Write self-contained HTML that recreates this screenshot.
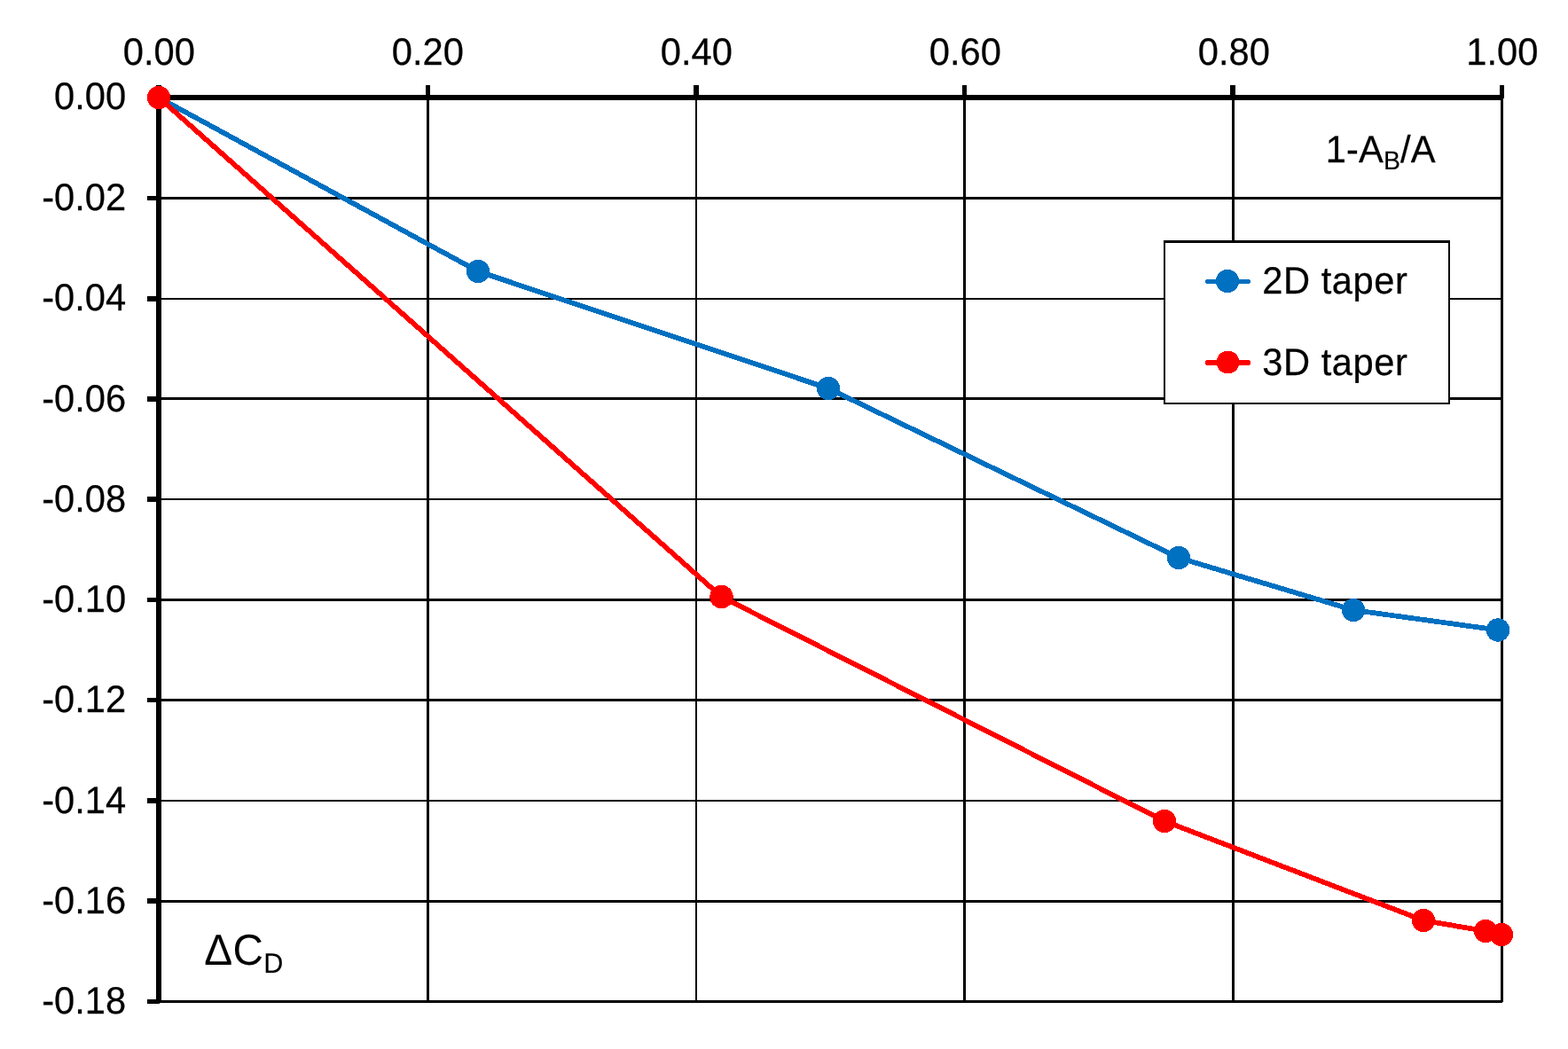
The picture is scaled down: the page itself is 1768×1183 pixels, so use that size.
<!DOCTYPE html>
<html lang="en"><head><meta charset="utf-8"><title>Chart</title>
<style>
html,body{margin:0;padding:0;background:#fff;}
body{width:1768px;height:1183px;overflow:hidden;}
svg{display:block;}
text{font-family:"Liberation Sans",sans-serif;fill:#000;stroke:#000;stroke-width:0.25px;text-rendering:geometricPrecision;}
.t{font-size:41.67px;}
</style></head><body>
<svg width="1768" height="1183" viewBox="0 0 1768 1183">
<rect x="0" y="0" width="1768" height="1183" fill="#fff"/>
<g fill="#000" shape-rendering="crispEdges">
<rect x="481" y="110" width="3" height="1020"/>
<rect x="784" y="110" width="2" height="1020"/>
<rect x="1086" y="110" width="3" height="1020"/>
<rect x="1389" y="110" width="3" height="1020"/>
<rect x="1692" y="110" width="3" height="1020"/>
<rect x="179" y="222" width="1515" height="3"/>
<rect x="179" y="336" width="1515" height="2"/>
<rect x="179" y="448" width="1515" height="3"/>
<rect x="179" y="562" width="1515" height="2"/>
<rect x="179" y="675" width="1515" height="3"/>
<rect x="179" y="788" width="1515" height="3"/>
<rect x="179" y="902" width="1515" height="2"/>
<rect x="179" y="1015" width="1515" height="3"/>
<rect x="179" y="1128" width="1515" height="3"/>
<rect x="176" y="107" width="6" height="1024"/>
<rect x="176" y="107" width="1518" height="6"/>
<rect x="176" y="96" width="6" height="15"/>
<rect x="480" y="96" width="5" height="15"/>
<rect x="782" y="96" width="6" height="15"/>
<rect x="1085" y="96" width="5" height="15"/>
<rect x="1387" y="96" width="6" height="15"/>
<rect x="1691" y="96" width="5" height="15"/>
<rect x="166" y="107" width="14" height="6"/>
<rect x="166" y="221" width="14" height="5"/>
<rect x="166" y="334" width="14" height="6"/>
<rect x="166" y="447" width="14" height="6"/>
<rect x="166" y="560" width="14" height="6"/>
<rect x="166" y="674" width="14" height="5"/>
<rect x="166" y="787" width="14" height="5"/>
<rect x="166" y="900" width="14" height="6"/>
<rect x="166" y="1013" width="14" height="6"/>
<rect x="166" y="1127" width="14" height="5"/>
</g>
<g shape-rendering="crispEdges">
<polyline fill="none" stroke="#0070C0" stroke-width="5.75" stroke-linejoin="round" stroke-linecap="round" points="179,110 539,306 934,438 1329,629 1526,688 1689,710.5"/>
<circle cx="179" cy="110" r="13.2" fill="#0070C0"/>
<circle cx="539" cy="306" r="13.2" fill="#0070C0"/>
<circle cx="934" cy="438" r="13.2" fill="#0070C0"/>
<circle cx="1329" cy="629" r="13.2" fill="#0070C0"/>
<circle cx="1526" cy="688" r="13.2" fill="#0070C0"/>
<circle cx="1689" cy="710.5" r="13.2" fill="#0070C0"/>
</g>
<g shape-rendering="crispEdges">
<polyline fill="none" stroke="#FF0000" stroke-width="5.75" stroke-linejoin="round" stroke-linecap="round" points="179,110 813.5,673 1313,926 1605,1038 1675,1050 1693,1054"/>
<circle cx="179" cy="110" r="13.2" fill="#FF0000"/>
<circle cx="813.5" cy="673" r="13.2" fill="#FF0000"/>
<circle cx="1313" cy="926" r="13.2" fill="#FF0000"/>
<circle cx="1605" cy="1038" r="13.2" fill="#FF0000"/>
<circle cx="1675" cy="1050" r="13.2" fill="#FF0000"/>
<circle cx="1693" cy="1054" r="13.2" fill="#FF0000"/>
</g>
<g shape-rendering="crispEdges">
<rect x="1312" y="271" width="323" height="185" fill="#000"/>
<rect x="1314" y="274" width="319" height="180" fill="#fff"/>
<line x1="1361.5" y1="317.5" x2="1407.5" y2="317.5" stroke="#0070C0" stroke-width="5" stroke-linecap="round"/>
<circle cx="1384" cy="317" r="13.2" fill="#0070C0"/>
<line x1="1362" y1="409" x2="1407" y2="409" stroke="#FF0000" stroke-width="6" stroke-linecap="round"/>
<circle cx="1384.5" cy="408.5" r="12.9" fill="#FF0000"/>
</g>
<text class="t" transform="translate(1423.2 331) scale(1 1.03)" style="letter-spacing:0.55px">2D taper</text>
<text class="t" transform="translate(1423.2 423) scale(1 1.03)" style="letter-spacing:0.55px">3D taper</text>
<text class="t" transform="translate(179.25 73) scale(1 1.03)" text-anchor="middle">0.00</text>
<text class="t" transform="translate(482.25 73) scale(1 1.03)" text-anchor="middle">0.20</text>
<text class="t" transform="translate(785.25 73) scale(1 1.03)" text-anchor="middle">0.40</text>
<text class="t" transform="translate(1088.25 73) scale(1 1.03)" text-anchor="middle">0.60</text>
<text class="t" transform="translate(1391.25 73) scale(1 1.03)" text-anchor="middle">0.80</text>
<text class="t" transform="translate(1693.75 73) scale(1 1.03)" text-anchor="middle">1.00</text>
<text class="t" transform="translate(142.2 123) scale(1 1.03)" text-anchor="end">0.00</text>
<text class="t" transform="translate(142.2 237) scale(1 1.03)" text-anchor="end">-0.02</text>
<text class="t" transform="translate(142.2 350) scale(1 1.03)" text-anchor="end">-0.04</text>
<text class="t" transform="translate(142.2 464) scale(1 1.03)" text-anchor="end">-0.06</text>
<text class="t" transform="translate(142.2 577) scale(1 1.03)" text-anchor="end">-0.08</text>
<text class="t" transform="translate(142.2 690) scale(1 1.03)" text-anchor="end">-0.10</text>
<text class="t" transform="translate(142.2 803) scale(1 1.03)" text-anchor="end">-0.12</text>
<text class="t" transform="translate(142.2 917) scale(1 1.03)" text-anchor="end">-0.14</text>
<text class="t" transform="translate(142.2 1030) scale(1 1.03)" text-anchor="end">-0.16</text>
<text class="t" transform="translate(142.2 1143) scale(1 1.03)" text-anchor="end">-0.18</text>
<text class="t" transform="translate(1494.8 183) scale(1 1.03)" style="letter-spacing:0.1px">1-A<tspan dy="7.73" style="font-size:28.5px;stroke-width:0.1px">B</tspan><tspan dy="-7.73">/A</tspan></text>
<text transform="translate(230.3 1088) scale(1 1.03)" style="font-size:47.7px;letter-spacing:0.3px;stroke-width:0">&#916;C<tspan dy="8.7" style="font-size:30.6px;stroke-width:0.1px">D</tspan></text>
</svg></body></html>
